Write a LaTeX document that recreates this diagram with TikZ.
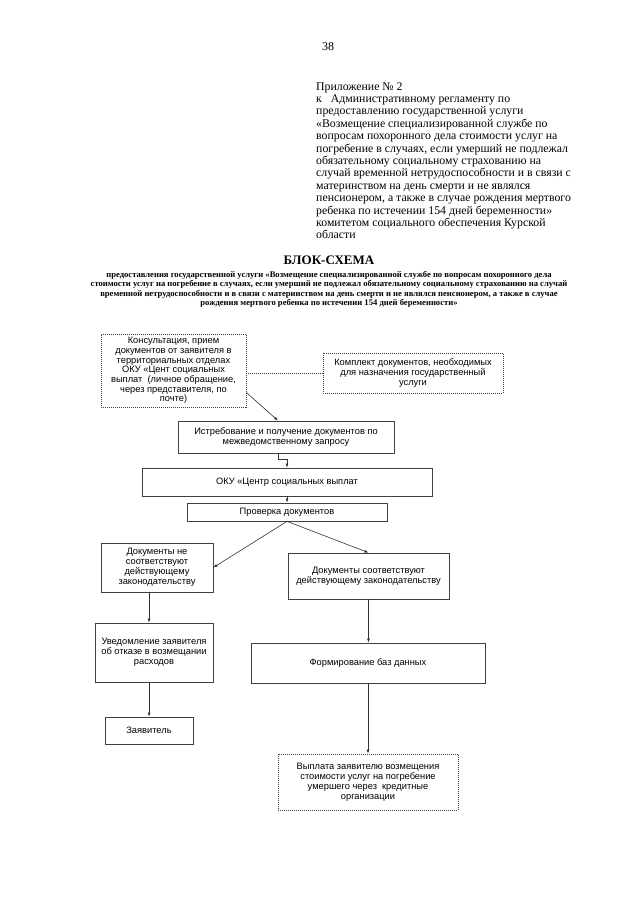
\documentclass[tikz,border=0pt]{standalone}
\usepackage{fontspec}
\setmainfont{Liberation Serif}
\newfontfamily\arial{Liberation Sans}
\usetikzlibrary{arrows.meta}

\begin{document}
\begin{tikzpicture}[x=1pt,y=-1pt,
		box/.style={draw=black!75, line width=0.7pt, align=center, inner sep=0pt, font=\arial\fontsize{9.3}{10}\selectfont},
		dotbox/.style={box, dash pattern=on 1pt off 1pt},
		arr/.style={draw=black!80, line width=0.6pt, -{Latex[length=4pt,width=3pt]}}]

	\useasboundingbox (0,0) rectangle (640,905);

		% header
		\node (pagenum) at (328,47) {\fontsize{12}{12}\selectfont 38};
		\node[anchor=north west, inner sep=0pt, align=left, font=\fontsize{11.8}{12.4}\selectfont] (prilozh) at (316,82)
			{Приложение № 2\\
			к\hspace{9pt}Административному регламенту по\\
			предоставлению государственной услуги\\
			«Возмещение специализированной службе по\\
			вопросам похоронного дела стоимости услуг на\\
			погребение в случаях, если умерший не подлежал\\
			обязательному социальному страхованию на\\
			случай временной нетрудоспособности и в связи с\\
			материнством на день смерти и не являлся\\
			пенсионером, а также в случае рождения мертвого\\
			ребенка по истечении 154 дней беременности»\\
			комитетом социального обеспечения Курской\\
			области};

		\node[inner sep=0pt, font=\bfseries\fontsize{13}{13}\selectfont] (title) at (329,260) {БЛОК-СХЕМА};
		\node[anchor=north, inner sep=0pt, align=center, font=\bfseries\fontsize{8.6}{9.5}\selectfont] (subtitle) at (329,271)
			{предоставления государственной услуги «Возмещение специализированной службе по вопросам похоронного дела\\
			стоимости услуг на погребение в случаях, если умерший не подлежал обязательному социальному страхованию на случай\\
			временной нетрудоспособности и в связи с материнством на день смерти и не являлся пенсионером, а также в случае\\
			рождения мертвого ребенка по истечении 154 дней беременности»};

		% boxes
		\node[dotbox, minimum width=145pt, minimum height=73pt, font=\arial\fontsize{9.3}{9.7}\selectfont] (konsult) at (173.5,370.5)
			{Консультация, прием\\документов от заявителя в\\территориальных отделах\\ОКУ «Цент социальных\\выплат~~(личное обращение,\\через представителя, по\\почте)};
		\node[dotbox, minimum width=180pt, minimum height=40pt] (komplekt) at (413,373)
			{Комплект документов, необходимых\\для назначения государственный\\услуги};
		\node[box, minimum width=216pt, minimum height=32pt] (istreb) at (286,437)
			{Истребование и получение документов по\\межведомственному запросу};
		\node[box, minimum width=290pt, minimum height=28pt] (oku) at (287,482) {ОКУ «Центр социальных выплат};
		\node[box, minimum width=200pt, minimum height=18pt] (proverka) at (287,512) {Проверка документов};
		\node[box, minimum width=112pt, minimum height=49pt] (docsne) at (157,567.5)
			{Документы не\\соответствуют\\действующему\\законодательству};
		\node[box, minimum width=161pt, minimum height=46pt] (docsok) at (368.5,576)
			{Документы соответствуют\\действующему законодательству};
		\node[box, minimum width=118pt, minimum height=59pt] (uved) at (154,652.5)
			{Уведомление заявителя\\об отказе в возмещании\\расходов};
		\node[box, minimum width=234pt, minimum height=40pt] (formir) at (368,663) {Формирование баз данных};
		\node[box, minimum width=88pt, minimum height=27pt] (zayav) at (149,730.5) {Заявитель};
		\node[dotbox, minimum width=180pt, minimum height=56pt] (vyplata) at (368,782)
			{Выплата заявителю возмещения\\стоимости услуг на погребение\\умершего через~~кредитные\\организации};

		% connectors
		\draw[draw=black!80, line width=0.6pt, dash pattern=on 1pt off 1pt] (konsult.east |- komplekt.west) -- (komplekt.west);
		\draw[arr] ([yshift=-22pt]konsult.east) -- ([xshift=-8pt]istreb.north);
		\draw[arr] ([xshift=-8pt]istreb.south) -- ++(0,6) -| (oku.north);
		\draw[arr] (oku.south) -- (proverka.north);
		\draw[arr] (proverka.south) -- (docsne.east);
		\draw[arr] (proverka.south) -- (docsok.north);
		\draw[arr] (docsne.south -| zayav.north) -- (uved.north -| zayav.north);
		\draw[arr] (uved.south -| zayav.north) -- (zayav.north);
		\draw[arr] (docsok.south) -- (docsok.south |- formir.north);
		\draw[arr] (formir.south) -- (vyplata.north);

	\end{tikzpicture}
\end{document}
